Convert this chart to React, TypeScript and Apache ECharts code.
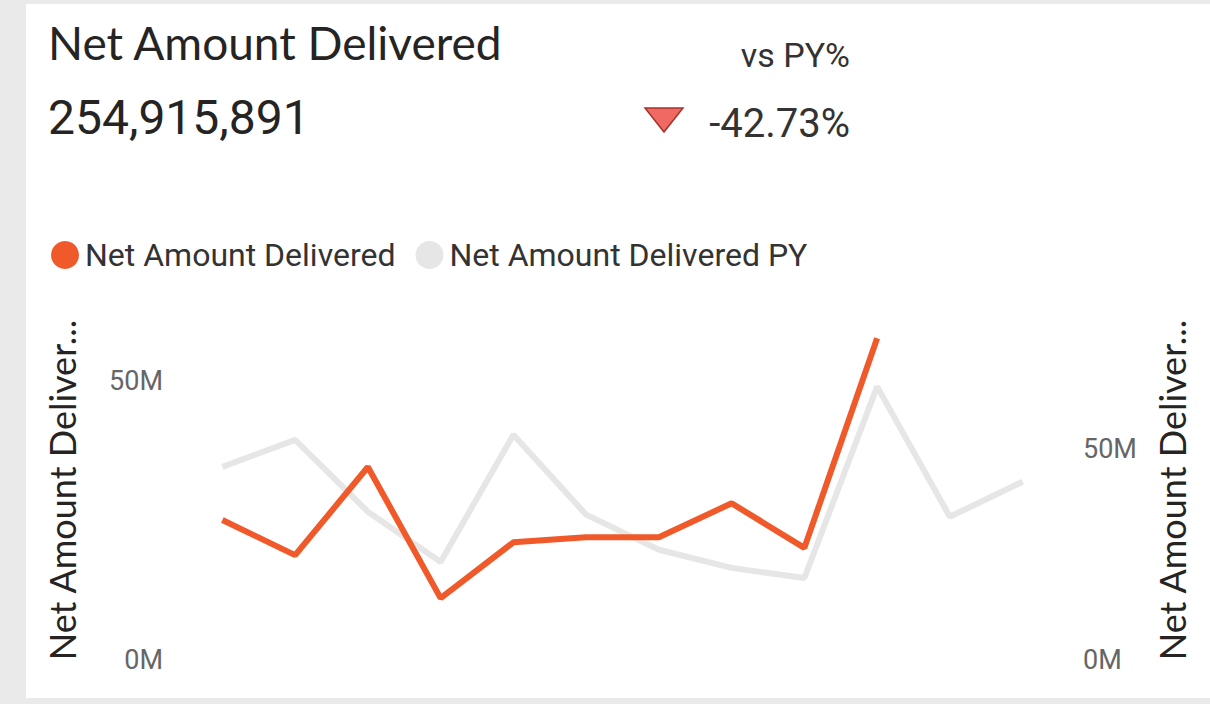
import React, { useEffect, useRef } from "react";
import * as echarts from "echarts";

const months = ["Jan", "Feb", "Mar", "Apr", "May", "Jun", "Jul", "Aug", "Sep", "Oct", "Nov", "Dec"];
// values in millions
const netAmount = [25.1, 18.8, 34.6, 11.1, 21.1, 22.0, 22.0, 28.1, 20.1, 57.7];
const netAmountPY = [45.7, 52.1, 35.1, 23.2, 53.3, 34.4, 26.1, 21.8, 19.4, 64.7, 33.9, 42.2];
const leftTicks = [0, 50];
const rightTicks = [0, 50];

const ORANGE = "#F0592A";
const GREY = "#E6E6E6";
const DIN = "Roboto, 'DejaVu Sans', sans-serif";
const SEGOE = "Lato, 'Open Sans', sans-serif";

export default function App() {
  const ref = useRef<HTMLDivElement>(null);
  useEffect(() => {
    if (!ref.current) return;
    const chart = echarts.init(ref.current, undefined, { renderer: "svg" });
    const fmt = (ticks: number[]) => (v: number) => (ticks.includes(Math.round(v * 1000) / 1000) ? `${v}M` : "");
    chart.setOption({
      animation: false,
      backgroundColor: "#EAEAEA",
      legend: {
        left: 46,
        top: 234,
        icon: "circle",
        itemWidth: 28,
        itemHeight: 28,
        itemGap: 20,
        textStyle: { fontFamily: DIN, fontSize: 32, color: "#333333", padding: [0, 0, 0, 1] },
        data: ["Net Amount Delivered", "Net Amount Delivered PY"],
      },
      grid: { left: 186, right: 151, top: 322, bottom: 44 },
      xAxis: {
        type: "category",
        data: months,
        boundaryGap: true,
        axisLine: { show: false },
        axisTick: { show: false },
        axisLabel: { show: false },
        splitLine: { show: false },
      },
      yAxis: [
        {
          type: "value",
          min: 0,
          max: 60.6,
          interval: 50,
          splitLine: { show: false },
          axisLine: { show: false },
          axisTick: { show: false },
          axisLabel: { formatter: fmt(leftTicks), fontFamily: DIN, fontSize: 27, color: "#666666", margin: 23 },
        },
        {
          type: "value",
          min: 0,
          max: 80,
          interval: 50,
          position: "right",
          splitLine: { show: false },
          axisLine: { show: false },
          axisTick: { show: false },
          axisLabel: { formatter: fmt(rightTicks), fontFamily: DIN, fontSize: 27, color: "#666666", margin: 24 },
        },
      ],
      series: [
        {
          name: "Net Amount Delivered PY",
          type: "line",
          yAxisIndex: 1,
          data: netAmountPY,
          showSymbol: false,
          symbol: "circle",
          itemStyle: { color: GREY },
          lineStyle: { color: GREY, width: 6 },
          z: 2,
        },
        {
          name: "Net Amount Delivered",
          type: "line",
          yAxisIndex: 0,
          data: netAmount,
          showSymbol: false,
          symbol: "circle",
          itemStyle: { color: ORANGE },
          lineStyle: { color: ORANGE, width: 6 },
          z: 3,
        },
      ],
      graphic: [
        { type: "rect", shape: { x: 26, y: 4, width: 1184, height: 694 }, style: { fill: "#FFFFFF" }, z: -10 },
        {
          type: "text",
          x: 48,
          y: 42,
          style: { text: "Net Amount Delivered", fontFamily: SEGOE, fontSize: 46, fill: "#252423", verticalAlign: "middle" },
        },
        {
          type: "text",
          x: 48,
          y: 117,
          style: { text: "254,915,891", fontFamily: DIN, fontSize: 48, fill: "#252423", verticalAlign: "middle" },
        },
        {
          type: "text",
          x: 850,
          y: 55,
          style: { text: "vs PY%", fontFamily: DIN, fontSize: 34, fill: "#333333", align: "right", verticalAlign: "middle" },
        },
        {
          type: "text",
          x: 850,
          y: 123,
          style: { text: "-42.73%", fontFamily: DIN, fontSize: 40, fill: "#333333", align: "right", verticalAlign: "middle" },
        },
        {
          type: "polygon",
          shape: { points: [[645, 108], [683, 108], [664, 132]] },
          style: { fill: "#EE6A62", stroke: "#A8322A", lineWidth: 1.5 },
        },
        {
          type: "text",
          x: 62,
          y: 490,
          rotation: Math.PI / 2,
          style: { text: "Net Amount Deliver...", fontFamily: SEGOE, fontSize: 36, fill: "#252423", align: "center", verticalAlign: "middle" },
        },
        {
          type: "text",
          x: 1172,
          y: 490,
          rotation: Math.PI / 2,
          style: { text: "Net Amount Deliver...", fontFamily: SEGOE, fontSize: 36, fill: "#252423", align: "center", verticalAlign: "middle" },
        },
      ],
    });
    return () => chart.dispose();
  }, []);
  return <div ref={ref} style={{ position: "fixed", left: 0, top: 0, width: 1210, height: 704 }} />;
}
